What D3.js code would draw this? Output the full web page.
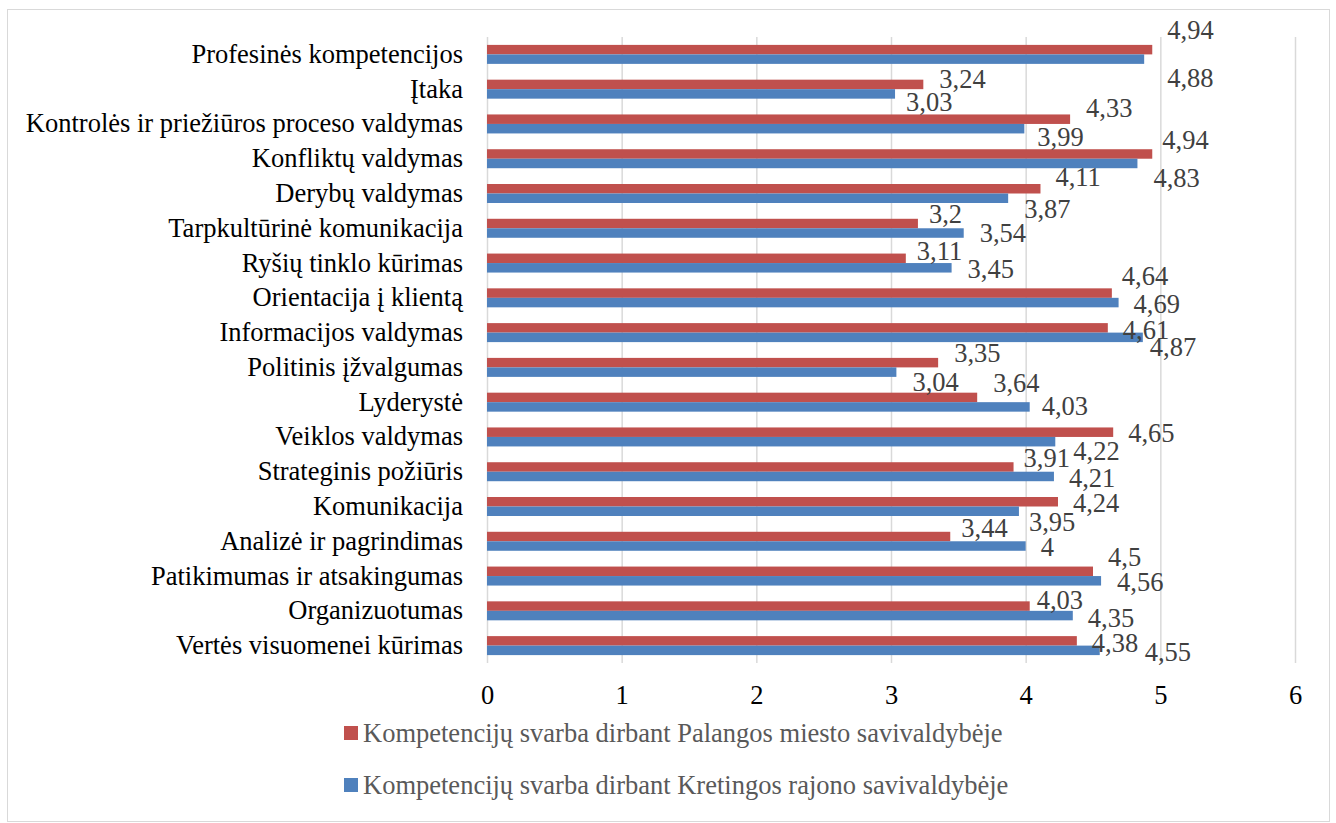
<!DOCTYPE html>
<html>
<head>
<meta charset="utf-8">
<script src="https://cdn.jsdelivr.net/npm/d3@7"></script>
<style>
  body { margin: 0; background: #fff; }
  svg text { font-family: 'Liberation Serif', 'Times New Roman', Tinos, 'DejaVu Serif', serif; }
</style>
</head>
<body>
<div id="chart"></div>
<script>
// categories, top to bottom
const categories = [
    "Profesinės kompetencijos",
    "Įtaka",
    "Kontrolės ir priežiūros proceso valdymas",
    "Konfliktų valdymas",
    "Derybų valdymas",
    "Tarpkultūrinė komunikacija",
    "Ryšių tinklo kūrimas",
    "Orientacija į klientą",
    "Informacijos valdymas",
    "Politinis įžvalgumas",
    "Lyderystė",
    "Veiklos valdymas",
    "Strateginis požiūris",
    "Komunikacija",
    "Analizė ir pagrindimas",
    "Patikimumas ir atsakingumas ",
    "Organizuotumas",
    "Vertės visuomenei kūrimas"
];

const palanga = [4.94, 3.24, 4.33, 4.94, 4.11, 3.2, 3.11, 4.64, 4.61, 3.35, 3.64, 4.65, 3.91, 4.24, 3.44, 4.5, 4.03, 4.38];
const kretinga = [4.88, 3.03, 3.99, 4.83, 3.87, 3.54, 3.45, 4.69, 4.87, 3.04, 4.03, 4.22, 4.21, 3.95, 4, 4.56, 4.35, 4.55];

const seriesNames = [
    "Kompetencijų svarba dirbant Palangos miesto savivaldybėje",
    "Kompetencijų svarba dirbant Kretingos rajono savivaldybėje"
];
const xTicks = [0, 1, 2, 3, 4, 5, 6];

// hand-placed data label offsets [dx from bar end, dy from bar centre], as in the original
const palangaNudge = [[15,-20],[16,-6],[16,-11],[10,-14],[15,-12],[11,-10],[11,-8],[10,-17],[15,2],
    [16,-10],[16,-15],[15,1],[10,-9],[15,1],[11,-9],[15,-15],[7,-6],[15,2]];
const kretingaNudge = [[23,19],[11,8],[13,8],[16,14],[16,10],[16,0],[16,1],[15,1],[7,9],
    [16,10],[12,-1],[18,9],[15,1],[10,10],[15,1],[16,1],[15,2],[45,1]];

const width = 1336;
const height = 823;
const red = '#C0504D';
const blue = '#4F81BD';
const fmt = v => String(v).replace('.', ',');

const svg = d3.select('#chart')
    .append('svg')
    .attr('width', width)
    .attr('height', height);

svg.append('rect')
    .attr('x', 7.5).attr('y', 9.5)
    .attr('width', 1322).attr('height', 812)
    .attr('fill', '#fff')
    .attr('stroke', '#d9d9d9');

const plot = { left: 487, right: 1295, top: 37, bottom: 663 };

const xScale = d3.scaleLinear()
    .domain([0, 6])
    .range([plot.left, plot.right]);

const yScale = d3.scaleBand()
    .domain(categories)
    .range([plot.top, plot.bottom])
    .paddingInner(0.454)
    .paddingOuter(0.227);

const sub = d3.scaleBand()
    .domain([0, 1])
    .range([0, yScale.bandwidth()]);

// gridlines
svg.append('g')
    .attr('transform', `translate(0, ${plot.top})`)
    .call(d3.axisBottom(xScale).tickValues(xTicks).tickFormat('').tickSize(plot.bottom - plot.top))
    .call(g => g.select('.domain').remove())
    .call(g => g.selectAll('line').attr('stroke', '#d9d9d9').attr('stroke-width', 1.5));

// tick labels
svg.append('g')
    .attr('transform', `translate(0, ${plot.bottom})`)
    .call(d3.axisBottom(xScale).tickValues(xTicks).tickSize(0).tickPadding(0).tickFormat(d3.format('d')))
    .attr('font-family', null)
    .call(g => g.select('.domain').remove())
    .call(g => g.selectAll('text')
        .attr('y', 32)
        .attr('dy', '0.35em')
        .attr('fill', '#000')
        .style('font-size', '26.5px'));

// category labels
svg.append('g')
    .attr('transform', `translate(${plot.left - 24}, 0)`)
    .call(d3.axisLeft(yScale).tickSize(0).tickPadding(0))
    .attr('font-family', null)
    .call(g => g.select('.domain').remove())
    .call(g => g.selectAll('text')
        .attr('fill', '#000')
        .style('font-size', '26.5px'));

const series = [
    { values: palanga, color: red, nudge: palangaNudge },
    { values: kretinga, color: blue, nudge: kretingaNudge }
];

series.forEach((s, si) => {
    svg.append('g')
        .selectAll('rect')
        .data(categories)
        .join('rect')
        .attr('x', xScale(0))
        .attr('y', d => yScale(d) + sub(si))
        .attr('width', (d, i) => xScale(s.values[i]) - xScale(0))
        .attr('height', sub.bandwidth())
        .attr('fill', s.color);
});

series.forEach((s, si) => {
    svg.append('g')
        .selectAll('text')
        .data(categories)
        .join('text')
        .attr('x', (d, i) => xScale(s.values[i]) + s.nudge[i][0])
        .attr('y', (d, i) => yScale(d) + sub(si) + sub.bandwidth() / 2 + s.nudge[i][1])
        .attr('dy', '0.35em')
        .attr('fill', '#404040')
        .style('font-size', '26.5px')
        .text((d, i) => fmt(s.values[i]));
});

// legend
const legend = svg.append('g');
seriesNames.forEach((name, i) => {
    const y = 733 + i * 52;
    legend.append('rect')
        .attr('x', 344).attr('y', y - 7)
        .attr('width', 14).attr('height', 14)
        .attr('fill', i === 0 ? red : blue);
    legend.append('text')
        .attr('x', 363).attr('y', y)
        .attr('dy', '0.35em')
        .attr('fill', '#595959')
        .style('font-size', '26.5px')
        .text(name);
});
</script>
</body>
</html>
